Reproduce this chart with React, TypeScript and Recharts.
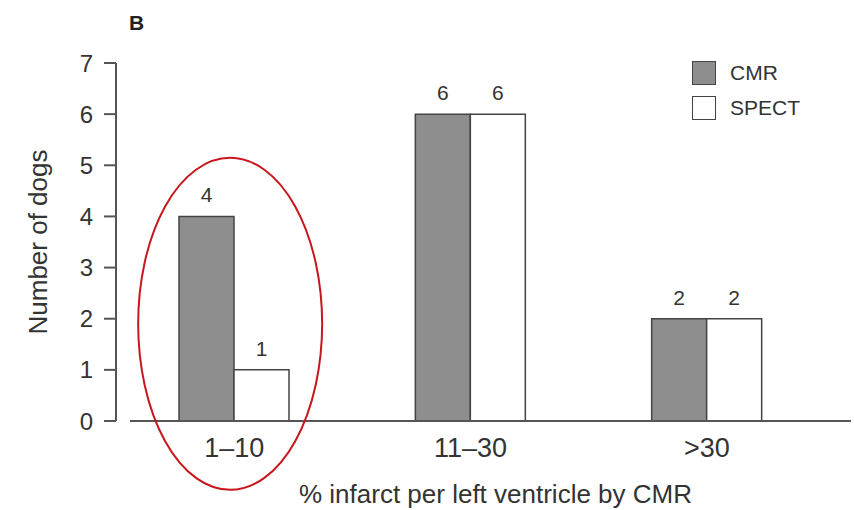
import { BarChart, Bar, XAxis, YAxis, Legend, LabelList, ReferenceDot } from "recharts";

const categories = ["1–10", "11–30", ">30"];
const cmrCounts = [4, 6, 2];
const spectCounts = [1, 6, 2];
const yTicks = [0, 1, 2, 3, 4, 5, 6, 7];

const seriesNames = ["CMR", "SPECT"];
const seriesFills = ["#8e8e8e", "#ffffff"];

// the red ring drawn round the first group
const highlightCategory = categories[0];
const highlightCentre = 1.9;

const data = categories.map((range, i) => ({
  range,
  cmr: cmrCounts[i],
  spect: spectCounts[i],
}));

const FONT = '"Liberation Sans", Arial, sans-serif';
const INK = "#333";
const AXIS = "#555";

const YTitle = (props: any) => {
  const vb = props.viewBox ?? { x: 0, y: 63, width: 116, height: 358 };
  const cx = vb.x + 38;
  const cy = vb.y + vb.height / 2;
  return (
    <text
      x={cx}
      y={cy}
      transform={`rotate(-90 ${cx} ${cy})`}
      textAnchor="middle"
      dominantBaseline="central"
      fontSize={26}
      fill={INK}
    >
      Number of dogs
    </text>
  );
};

const XTitle = (props: any) => {
  const vb = props.viewBox ?? { x: 116, y: 421, width: 735, height: 89 };
  return (
    <text
      x={vb.x + vb.width / 2 + 12}
      y={vb.y + 82}
      textAnchor="middle"
      fontSize={26}
      fill={INK}
    >
      % infarct per left ventricle by CMR
    </text>
  );
};

const Ring = (props: any) => (
  <ellipse
    cx={props.cx - 4}
    cy={props.cy}
    rx={92}
    ry={166}
    fill="none"
    stroke="#c8161d"
    strokeWidth={2}
  />
);

const LegendBox = () => (
  <div style={{ fontFamily: FONT }}>
    {seriesNames.map((name, i) => (
      <div
        key={name}
        style={{ display: "flex", alignItems: "center", height: 25, marginBottom: 10 }}
      >
        <span
          style={{
            display: "inline-block",
            width: 22,
            height: 22,
            background: seriesFills[i],
            border: "1.5px solid #444",
            marginRight: 14,
          }}
        />
        <span style={{ fontSize: 21, color: INK }}>{name}</span>
      </div>
    ))}
  </div>
);

export default function App() {
  return (
    <div
      style={{
        position: "absolute",
        left: 0,
        top: 0,
        width: 854,
        height: 510,
        background: "#fff",
        fontFamily: FONT,
      }}
    >
      <div
        style={{
          position: "absolute",
          left: 129,
          top: 12,
          fontSize: 21,
          lineHeight: "21px",
          fontWeight: "bold",
          color: "#222",
        }}
      >
        B
      </div>
      <BarChart
        width={854}
        height={510}
        data={data}
        margin={{ top: 63, right: 3, bottom: 0, left: 0 }}
        barGap={0}
        barSize={55}
        style={{ fontFamily: FONT }}
      >
        <XAxis
          dataKey="range"
          height={89}
          padding={{ left: 0, right: 26 }}
          interval={0}
          tickLine={false}
          tickSize={0}
          tickMargin={17}
          axisLine={{ stroke: AXIS, strokeWidth: 2, strokeDasharray: "0 14 2000" }}
          tick={{ fontSize: 27, fill: INK }}
          label={<XTitle />}
        />
        <YAxis
          width={116}
          domain={[0, 7]}
          ticks={yTicks}
          interval={0}
          tickSize={12}
          tickMargin={11}
          axisLine={{ stroke: AXIS, strokeWidth: 2 }}
          tickLine={{ stroke: AXIS, strokeWidth: 2 }}
          tick={{ fontSize: 24, fill: INK }}
          label={<YTitle />}
        />
        <Legend
          layout="vertical"
          align="center"
          verticalAlign="middle"
          content={<LegendBox />}
          wrapperStyle={{ top: 60, left: 692, width: "auto" }}
        />
        <Bar
          dataKey="cmr"
          name={seriesNames[0]}
          fill={seriesFills[0]}
          stroke="#444"
          strokeWidth={1.5}
          isAnimationActive={false}
        >
          <LabelList dataKey="cmr" position="top" offset={14} fontSize={21} fill={INK} />
        </Bar>
        <Bar
          dataKey="spect"
          name={seriesNames[1]}
          fill={seriesFills[1]}
          stroke="#444"
          strokeWidth={1.5}
          isAnimationActive={false}
        >
          <LabelList dataKey="spect" position="top" offset={14} fontSize={21} fill={INK} />
        </Bar>
        <ReferenceDot
          x={highlightCategory}
          y={highlightCentre}
          ifOverflow="visible"
          shape={<Ring />}
        />
      </BarChart>
    </div>
  );
}
